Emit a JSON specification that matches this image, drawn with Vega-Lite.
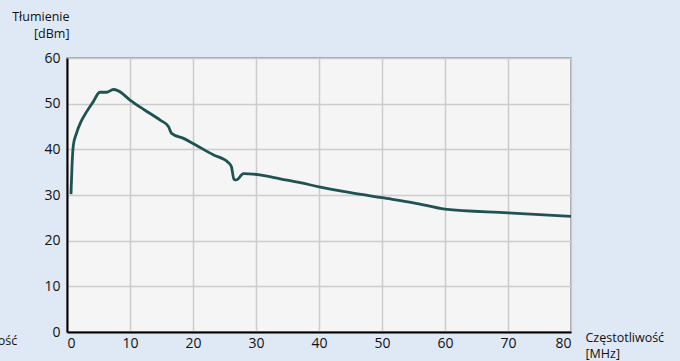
{
  "$schema": "https://vega.github.io/schema/vega-lite/v6.json",
  "autosize": {"type": "none"},
  "width": 504,
  "height": 274,
  "padding": {"left": 67, "top": 58, "right": 109, "bottom": 29},
  "background": "#dfe8f5",
  "config": {
    "font": "Open Sans",
    "view": {"fill": "#f5f5f5", "stroke": "#8a8a8a", "strokeWidth": 1.5}
  },
  "layer": [
    {
      "data": {
        "values": [
          {"f": 0.63, "a": 30.2},
          {"f": 0.8, "a": 36.5},
          {"f": 1.0, "a": 40.8},
          {"f": 1.5, "a": 43.5},
          {"f": 2.2, "a": 46.0},
          {"f": 3.1, "a": 48.2},
          {"f": 4.2, "a": 50.5},
          {"f": 5.2, "a": 52.5},
          {"f": 6.3, "a": 52.5},
          {"f": 7.35, "a": 53.1},
          {"f": 8.15, "a": 52.8},
          {"f": 10.0, "a": 50.8},
          {"f": 12.1, "a": 48.8},
          {"f": 14.8, "a": 46.4},
          {"f": 16.1, "a": 45.0},
          {"f": 16.6, "a": 43.5},
          {"f": 18.5, "a": 42.4},
          {"f": 20.0, "a": 41.3},
          {"f": 23.2, "a": 38.8},
          {"f": 25.6, "a": 37.1},
          {"f": 26.1, "a": 36.2},
          {"f": 26.5, "a": 33.4},
          {"f": 26.9, "a": 33.3},
          {"f": 28.0, "a": 34.7},
          {"f": 30.6, "a": 34.4},
          {"f": 34.0, "a": 33.5},
          {"f": 37.0, "a": 32.7},
          {"f": 40.0, "a": 31.8},
          {"f": 45.0, "a": 30.5},
          {"f": 50.0, "a": 29.4},
          {"f": 55.0, "a": 28.3},
          {"f": 60.0, "a": 26.9},
          {"f": 70.0, "a": 26.1},
          {"f": 80.0, "a": 25.3}
        ]
      },
      "mark": {"type": "line", "color": "#1f5352", "strokeWidth": 2.8, "interpolate": "monotone"},
      "encoding": {
        "x": {
          "field": "f", "type": "quantitative",
          "scale": {"domain": [0, 80], "nice": false},
          "axis": {
            "values": [0, 10, 20, 30, 40, 50, 60, 70, 80],
            "ticks": false, "labelPadding": 4,
            "labelFontSize": 14, "labelColor": "#111", "labelFont": "Open Sans",
            "domainColor": "#000", "domainWidth": 2,
            "gridColor": "#cccccc", "gridWidth": 1.5,
            "title": ["Częstotliwość", "[MHz]"],
            "titleFontSize": 12.5, "titleFontWeight": "normal", "titleColor": "#111",
            "titleAlign": "left", "titleAnchor": null, "titleBaseline": "top",
            "titleX": 518, "titleY": -1, "titleLineHeight": 16
          }
        },
        "y": {
          "field": "a", "type": "quantitative",
          "scale": {"domain": [0, 60], "nice": false},
          "axis": {
            "values": [0, 10, 20, 30, 40, 50, 60],
            "ticks": false, "labelPadding": 7,
            "labelFontSize": 14, "labelColor": "#111", "labelFont": "Open Sans",
            "domainColor": "#000", "domainWidth": 2,
            "gridColor": "#cccccc", "gridWidth": 1.5,
            "title": ["Tłumienie", "[dBm]"],
            "titleFontSize": 12.5, "titleFontWeight": "normal", "titleColor": "#111",
            "titleAngle": 0, "titleAlign": "right", "titleAnchor": null, "titleBaseline": "top",
            "titleX": 2, "titleY": -48, "titleLineHeight": 17
          }
        }
      }
    },
    {
      "data": {"values": [{"label": "Częstotliwość"}]},
      "mark": {"type": "text", "align": "right", "baseline": "middle", "fontSize": 12.5, "color": "#111", "font": "Open Sans"},
      "encoding": {
        "x": {"datum": -7.9, "type": "quantitative"},
        "y": {"datum": -2, "type": "quantitative"},
        "text": {"field": "label", "type": "nominal"}
      }
    }
  ]
}
